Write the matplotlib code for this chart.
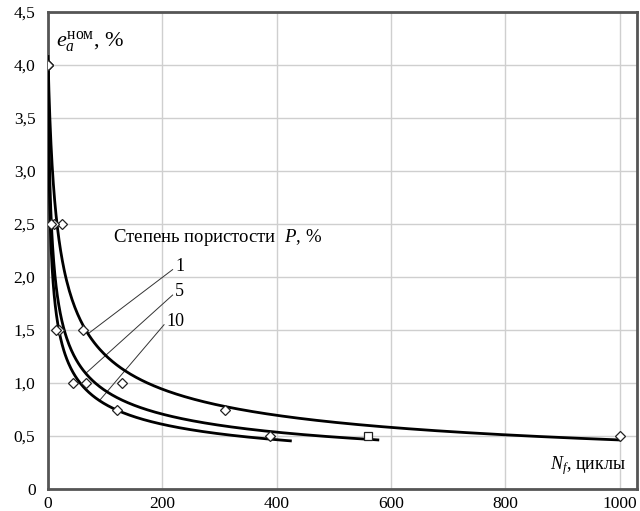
import numpy as np
import matplotlib
matplotlib.use("Agg")
import matplotlib.pyplot as plt

plt.rcParams["font.family"] = ["Liberation Serif", "DejaVu Serif"]
plt.rcParams["mathtext.fontset"] = "custom"
plt.rcParams["mathtext.rm"] = "Liberation Serif"
plt.rcParams["mathtext.it"] = "Liberation Serif:italic"

# --- data (cycles to failure vs nominal strain amplitude) ---
porosity = ["1", "5", "10"]

cycles_p1 = [0, 24, 62, 129, 309, 1000]
strain_p1 = [4.0, 2.5, 1.5, 1.0, 0.75, 0.5]

cycles_p5 = [0, 10, 19, 66, 560]
strain_p5 = [4.0, 2.5, 1.5, 1.0, 0.5]

cycles_p10 = [0, 6, 14, 44, 121, 388]
strain_p10 = [4.0, 2.5, 1.5, 1.0, 0.75, 0.5]

curve_end = [1000, 577, 424]
leader_x = [70, 66, 90]
label_pos = [(222, 2.10), (222, 1.86), (207, 1.58)]

x_ticks = [0, 200, 400, 600, 800, 1000]
y_ticks = [0, 0.5, 1.0, 1.5, 2.0, 2.5, 3.0, 3.5, 4.0, 4.5]


def fit_curve(xs, ys):
    # power-law trend y = A*(x + x0)^b, offset x0 picked by least squares
    xs = np.asarray(xs, float)
    ys = np.asarray(ys, float)
    best = None
    for x0 in np.linspace(0.3, 8, 78):
        b, lna = np.polyfit(np.log(xs + x0), np.log(ys), 1)
        err = np.sum((np.exp(lna) * (xs + x0) ** b - ys) ** 2)
        if best is None or err < best[0]:
            best = (err, x0, b, lna)
    _, x0, b, lna = best
    return lambda x: np.exp(lna) * (np.asarray(x) + x0) ** b


fig = plt.figure(figsize=(6.4, 5.11), dpi=100)
ax = fig.add_axes([0.075, 0.043, 0.92, 0.9335])

series = [(cycles_p1, strain_p1), (cycles_p5, strain_p5), (cycles_p10, strain_p10)]
markers = [["D"] * 6, ["D"] * 4 + ["s"], ["D"] * 6]

for i, (xs, ys) in enumerate(series):
    f = fit_curve(xs, ys)
    xx = np.concatenate([np.linspace(0, 30, 300), np.linspace(30, curve_end[i], 400)])
    ax.plot(xx, f(xx), color="black", lw=2.0, zorder=3)
    for x, y, m in zip(xs, ys, markers[i]):
        ax.plot(x, y, marker=m, ms=5 if m == "D" else 5.5, mfc="white", mec="#222222",
                mew=0.9, zorder=4)
    # leader line from the curve to the porosity label
    lx = leader_x[i]
    tx, ty = label_pos[i]
    ax.plot([lx, tx - 4], [f(lx), ty - 0.03], color="#333333", lw=0.7, zorder=2)
    ax.text(tx, ty, porosity[i], fontsize=13, ha="left", va="center")

ax.text(113, 2.37, "Степень пористости  $P$, %", fontsize=13.5, ha="left", va="center")
ax.text(14, 4.22, r"$e_a^{\mathrm{ном}}$, %", fontsize=16, ha="left", va="center")
ax.text(1010, 0.22, r"$N_f$, циклы", fontsize=13, ha="right", va="center")

ax.set_xlim(0, 1030)
ax.set_ylim(0, 4.5)
ax.set_xticks(x_ticks)
ax.set_yticks(y_ticks)
ax.set_yticklabels([f"{v:.1f}".replace(".", ",") if v else "0" for v in y_ticks])
ax.tick_params(length=0, labelsize=12.5, pad=5)
ax.tick_params(axis="y", pad=9)
ax.grid(True, color="#cfcfcf", lw=1.0)
ax.set_axisbelow(True)
for s in ax.spines.values():
    s.set_color("#555555")
    s.set_linewidth(2.0)

fig.savefig("out.png", dpi=100)
